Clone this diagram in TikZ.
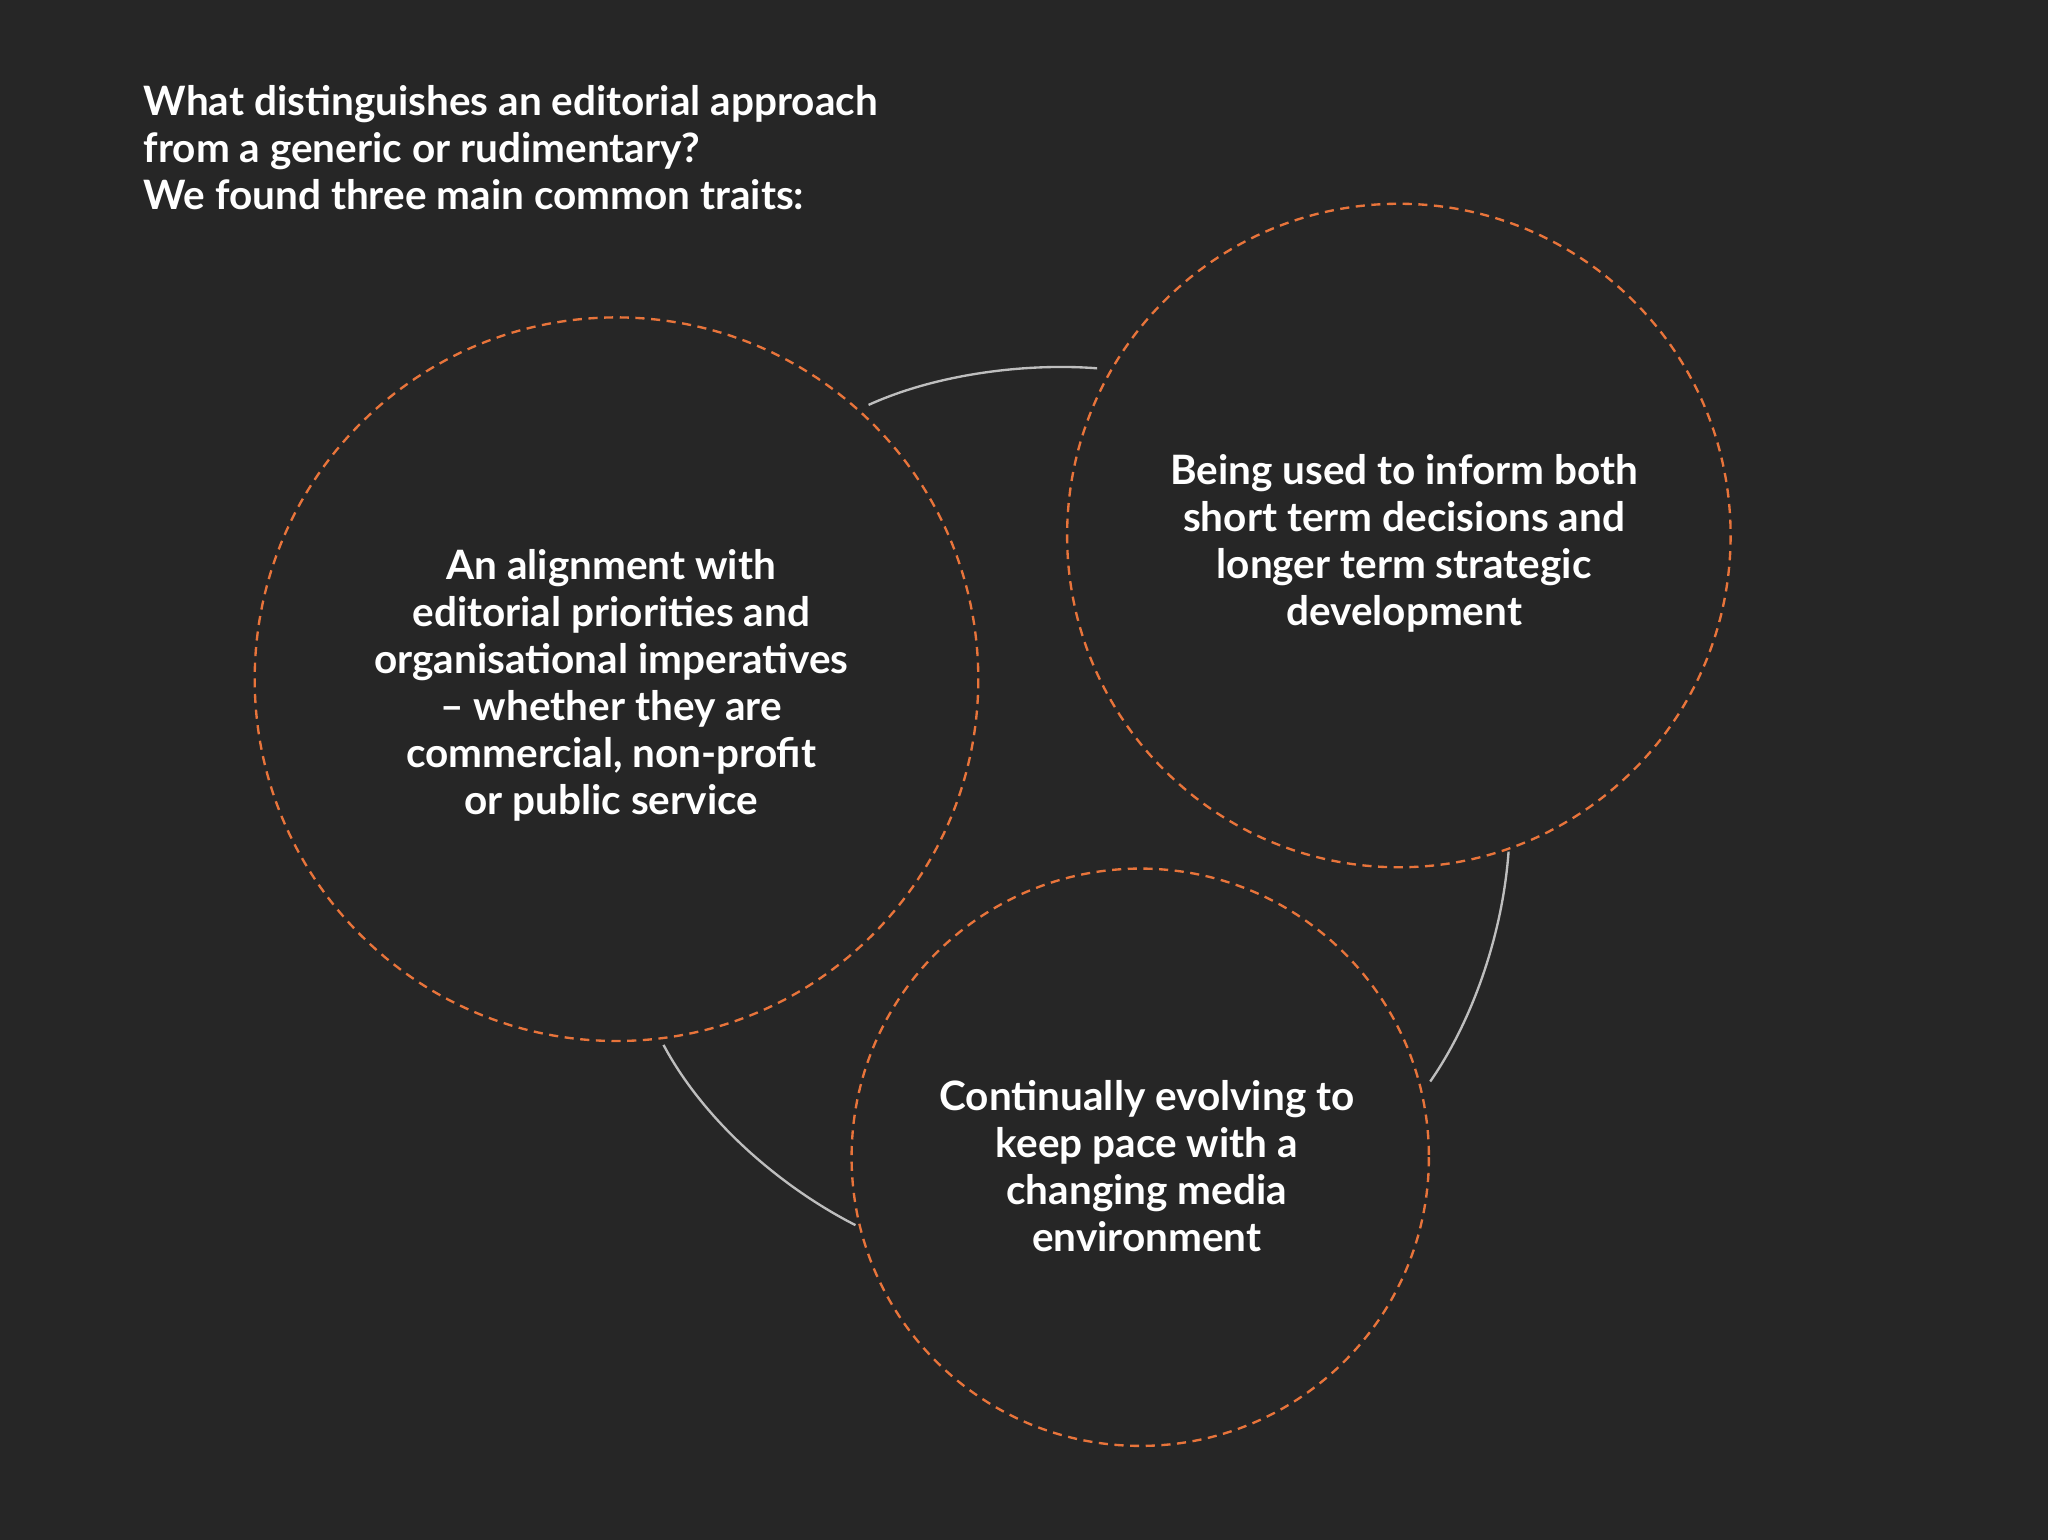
\documentclass[tikz,border=0pt]{standalone}
\usepackage{fontspec}
\setmainfont{Lato}
\definecolor{bg}{HTML}{262626}
\definecolor{orng}{HTML}{E8743B}
\begin{document}
\begin{tikzpicture}[x=0.5pt,y=-0.5pt,
  ring/.style={draw=orng,line width=0.9pt,dash pattern=on 3.5pt off 2.5pt},
  lbl/.style={text=white,font=\fontsize{15.5pt}{18pt}\selectfont\bfseries,align=center},
  arcline/.style={draw=white!70!bg,line width=0.9pt}]
\fill[bg] (0,0) rectangle (1568,1179);
\useasboundingbox (0,0) rectangle (1568,1179);
\node[lbl,align=left,anchor=north west] (title) at (103,58) {What distinguishes an editorial approach\\from a generic or rudimentary?\\We found three main common traits:};
\coordinate (a1) at (665,310); \coordinate (a2) at (840,282);
\coordinate (b1) at (1155,652); \coordinate (b2) at (1095,828);
\coordinate (c1) at (508,800); \coordinate (c2) at (655,938);
\draw[arcline] (a1) .. controls (720,285) and (790,278) .. (a2);
\draw[arcline] (b1) .. controls (1150,720) and (1125,785) .. (b2);
\draw[arcline] (c1) .. controls (540,860) and (600,910) .. (c2);
\draw[ring] (472,520) circle[radius=277];
\draw[ring] (1071,410) circle[radius=254];
\draw[ring] (873,886) circle[radius=221];
\node[lbl] (t1) at (468,525) {An alignment with\\editorial priorities and\\organisational imperatives\\– whether they are\\commercial, non-profit\\or public service};
\node[lbl] (t2) at (1075,416) {Being used to inform both\\short term decisions and\\longer term strategic\\development};
\node[lbl] (t3) at (878,893) {Continually evolving to\\keep pace with a\\changing media\\environment};
\end{tikzpicture}
\end{document}
